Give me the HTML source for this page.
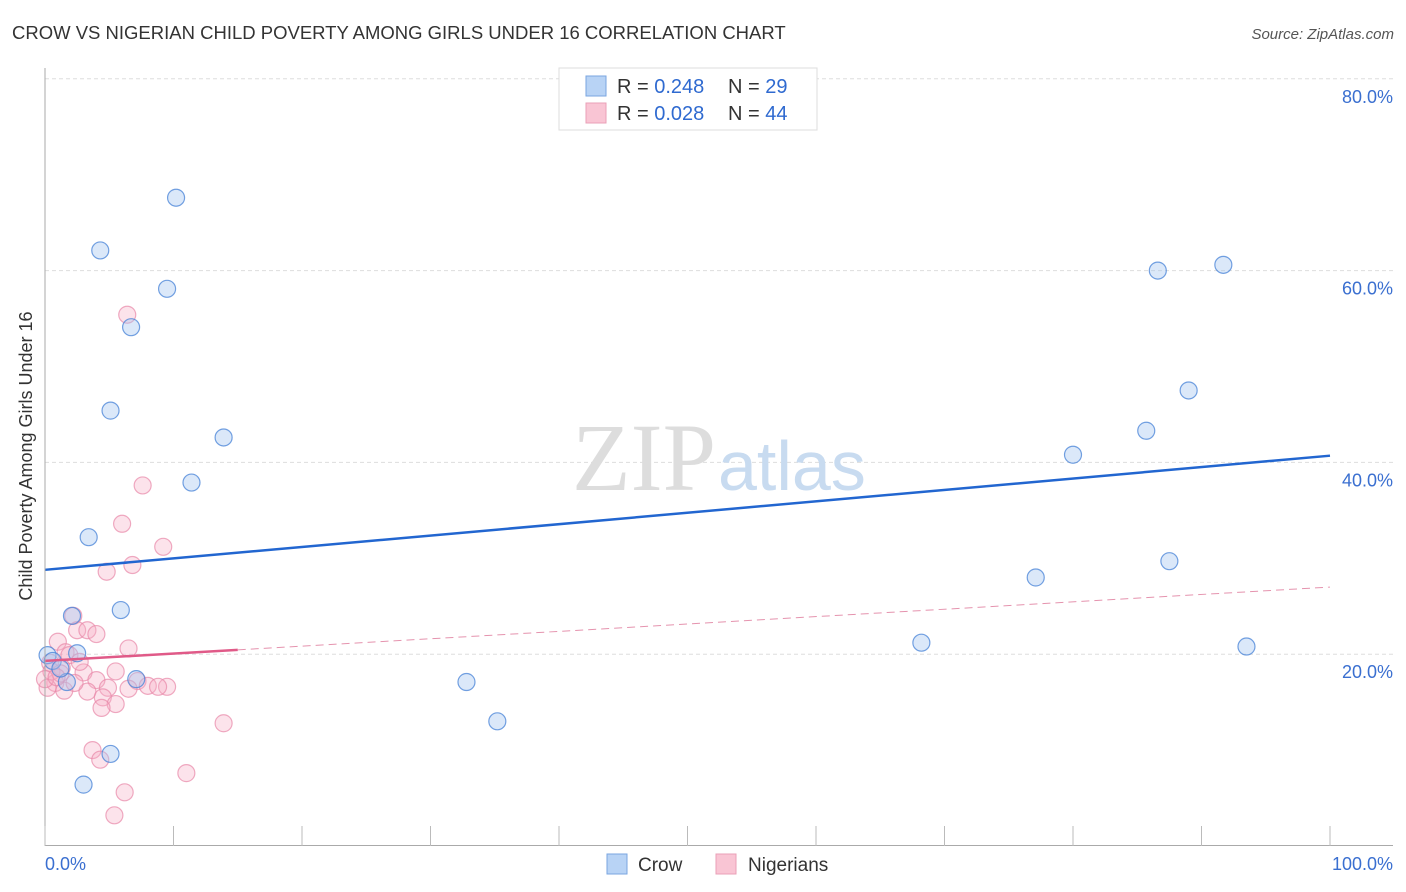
<!DOCTYPE html>
<html><head><meta charset="utf-8"><style>
body{margin:0;background:#fff;font-family:"Liberation Sans",sans-serif;}
#c{position:absolute;left:0;top:0;width:1406px;height:892px;}
</style></head><body>
<svg id="c" width="1406" height="892">
<text x="12" y="39" font-size="18.5" fill="#333">CROW VS NIGERIAN CHILD POVERTY AMONG GIRLS UNDER 16 CORRELATION CHART</text>
<text x="1394" y="39" font-size="15" fill="#555" font-style="italic" text-anchor="end">Source: ZipAtlas.com</text>
<text x="32" y="456" font-size="18" fill="#333" transform="rotate(-90 32 456)" text-anchor="middle">Child Poverty Among Girls Under 16</text>
<g id="grid"></g>
<text x="716" y="490" font-size="96" fill="#ddd" text-anchor="end" font-family="Liberation Serif">ZIP</text>
<text x="718" y="490" font-size="70" fill="#c8dbf0">atlas</text>
<g id="pts"></g>
<g id="lines"></g>
<line x1="45" y1="68" x2="45" y2="846" stroke="#aaa"/>
<line x1="45" y1="845.5" x2="1393" y2="845.5" stroke="#aaa"/>
<g id="xt"></g>
<text x="45" y="870" font-size="18" fill="#3a6fd0">0.0%</text>
<text x="1393" y="870" font-size="18" fill="#3a6fd0" text-anchor="end">100.0%</text>
<rect x="559" y="68" width="258" height="62" fill="#fff" stroke="#ddd"/>
<rect x="586" y="76" width="20" height="20" fill="#b8d3f5" stroke="#7aa6e0"/>
<rect x="586" y="103" width="20" height="20" fill="#f9c5d4" stroke="#eaa0b7"/>
<text y="93" font-size="20"><tspan x="617" fill="#333">R = </tspan><tspan fill="#2f6ad0">0.248</tspan><tspan x="728" fill="#333">N = </tspan><tspan fill="#2f6ad0">29</tspan></text>
<text y="120" font-size="20"><tspan x="617" fill="#333">R = </tspan><tspan fill="#2f6ad0">0.028</tspan><tspan x="728" fill="#333">N = </tspan><tspan fill="#2f6ad0">44</tspan></text>
<rect x="607" y="854" width="20" height="20" fill="#b8d3f5" stroke="#7aa6e0"/>
<text x="638" y="871" font-size="19" fill="#333">Crow</text>
<rect x="716" y="854" width="20" height="20" fill="#f9c5d4" stroke="#eaa0b7"/>
<text x="748" y="871" font-size="19" fill="#333">Nigerians</text>
</svg>
<script>
const crowX=[10.2,4.3,9.5,6.7,5.1,13.9,11.4,3.4,5.9,2.1,2.5,0.2,0.6,1.7,7.1,5.1,3.0,32.8,35.2,68.2,77.1,80.0,85.7,86.6,91.7,89.0,87.5,93.5,1.2];
const crowY=[67.6,62.1,58.1,54.1,45.4,42.6,37.9,32.2,24.6,24.0,20.1,19.9,19.3,17.1,17.4,9.6,6.4,17.1,13.0,21.2,28.0,40.8,43.3,60.0,60.6,47.5,29.7,20.8,18.5];
const nigX=[6.4,7.6,6.0,9.2,6.8,4.8,2.2,2.5,3.3,4.0,1.0,1.6,1.9,6.5,0.4,1.3,3.0,5.5,7.2,4.0,4.9,3.3,8.0,9.5,8.8,6.5,0.8,1.5,0.2,4.5,5.5,4.4,13.9,3.7,4.3,11.0,6.2,5.4,2.3,0.5,1.2,0.0,0.9,2.7];
const nigY=[55.4,37.6,33.6,31.2,29.3,28.6,24.0,22.5,22.5,22.1,21.3,20.2,19.9,20.6,19.1,18.6,18.1,18.2,17.2,17.3,16.5,16.1,16.7,16.6,16.6,16.4,17.0,16.2,16.5,15.5,14.8,14.4,12.8,10.0,9.0,7.6,5.6,3.2,17.0,18.2,18.0,17.4,17.6,19.2];
const crowTrend=[28.8,40.7];
const nigTrend=[19.3,27.0];
const nigSolidEnd=15;
const yTicks=[20,40,60,80];
const X=v=>45+v*12.85, Y=v=>846-v*9.59;
const ns="http://www.w3.org/2000/svg";
function mk(t,a,p){const e=document.createElementNS(ns,t);for(const k in a)e.setAttribute(k,a[k]);p.appendChild(e);return e;}
const grid=document.getElementById('grid');
yTicks.forEach(t=>{
 const l=mk('line',{x1:45,x2:1393,y1:Y(t),y2:Y(t),stroke:'#ddd','stroke-dasharray':'4,3'},grid);
 
 
 const tx=mk('text',{x:1393,y:Y(t)+24,'font-size':18,fill:'#3a6fd0','text-anchor':'end'},grid);
 tx.textContent=t.toFixed(1)+'%';
 
 
});
const xt=document.getElementById('xt');
for(let i=0;i<=10;i++){const l=mk('line',{x1:X(i*10),x2:X(i*10),y1:826,y2:846,stroke:'#bbb'},xt);
 
 }
const pts=document.getElementById('pts');
nigX.forEach((x,i)=>{const c=mk('circle',{cx:X(x),cy:Y(nigY[i]),r:8.5,fill:'rgba(246,175,198,0.35)',stroke:'rgba(232,135,168,0.7)','stroke-width':1.2},pts);
 
 });
crowX.forEach((x,i)=>{const c=mk('circle',{cx:X(x),cy:Y(crowY[i]),r:8.5,fill:'rgba(165,198,240,0.4)',stroke:'rgba(70,130,215,0.75)','stroke-width':1.2},pts);
 
 });
const ln=document.getElementById('lines');
const a=mk('line',{x1:X(0),y1:Y(crowTrend[0]),x2:X(100),y2:Y(crowTrend[1]),stroke:'#2266d0','stroke-width':2.5},ln);


const ym=nigTrend[0]+(nigTrend[1]-nigTrend[0])*nigSolidEnd/100;
const b=mk('line',{x1:X(0),y1:Y(nigTrend[0]),x2:X(nigSolidEnd),y2:Y(ym),stroke:'#e05a88','stroke-width':2.5},ln);


const d=mk('line',{x1:X(nigSolidEnd),y1:Y(ym),x2:X(100),y2:Y(nigTrend[1]),stroke:'#e593ae','stroke-width':1,'stroke-dasharray':'8,5'},ln);


</script>
</body></html>
